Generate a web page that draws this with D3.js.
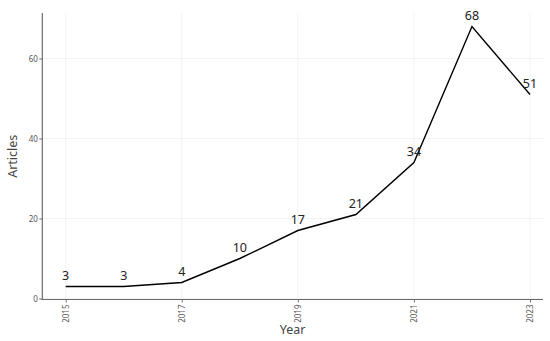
<!DOCTYPE html>
<html><head><meta charset="utf-8">
<script src="https://cdn.jsdelivr.net/npm/d3@7"></script>
<style>body{margin:0;background:#fff}svg{display:block}</style>
</head><body>
<script>
const years = [2015,2016,2017,2018,2019,2020,2021,2022,2023];
const articles = [3,3,4,10,17,21,34,68,51];
const xTicks = [2015,2017,2019,2021,2023];
const yTicks = [0,20,40,60];

const W=550,H=341;
const svg=d3.select("body").append("svg").attr("width",W).attr("height",H);
const x=d3.scaleLinear().domain([2015,2023]).range([65.7,530]);
const y=d3.scaleLinear().domain([0,60]).range([298.5,58.5]);
const pLeft=42.3, pRight=543, pTop=13, pBottom=299.5;
const font="'Noto Sans', 'Open Sans', sans-serif";

// grid
svg.append("g").selectAll("line").data(yTicks).join("line")
  .attr("x1",pLeft).attr("x2",pRight).attr("y1",d=>y(d)).attr("y2",d=>y(d))
  .attr("stroke","#f0f0f0").attr("stroke-width",0.8);
svg.append("g").selectAll("line").data(xTicks).join("line")
  .attr("x1",d=>x(d)).attr("x2",d=>x(d)).attr("y1",pTop).attr("y2",pBottom)
  .attr("stroke","#f0f0f0").attr("stroke-width",0.8);

// axes
const xAxis=d3.axisBottom(x).tickValues(xTicks).tickFormat(d3.format("d")).tickSize(3).tickSizeOuter(0);
const gx=svg.append("g").attr("transform",`translate(0,${pBottom})`).call(xAxis);
gx.select(".domain").remove();
gx.append("line").attr("x1",pLeft).attr("x2",pRight).attr("stroke","#6b6b6b").attr("stroke-width",1.2);
gx.selectAll(".tick line").attr("stroke","#6b6b6b");
gx.selectAll(".tick text").attr("transform","rotate(-90)").attr("x",-5).attr("y",0).attr("dy","0.35em")
  .attr("text-anchor","end").attr("fill","#555").style("font-family",font).style("font-size","8px");

const yAxis=d3.axisLeft(y).tickValues(yTicks).tickSize(3).tickSizeOuter(0);
const gy=svg.append("g").attr("transform",`translate(${pLeft},0)`).call(yAxis);
gy.select(".domain").remove();
gy.append("line").attr("y1",pTop).attr("y2",pBottom+0.6).attr("stroke","#6b6b6b").attr("stroke-width",1.2);
gy.selectAll(".tick line").attr("stroke","#6b6b6b");
gy.selectAll(".tick text").attr("x",-4.5).attr("fill","#555").style("font-family",font).style("font-size","8px");

// line
const line=d3.line().x((d,i)=>x(years[i])).y(d=>y(d));
svg.append("path").datum(articles).attr("d",line).attr("fill","none")
  .attr("stroke","#000").attr("stroke-width",1.4);

// labels
svg.append("g").selectAll("text").data(articles).join("text")
  .attr("x",(d,i)=>x(years[i])).attr("y",d=>y(d)-7)
  .attr("text-anchor","middle").attr("fill","#222")
  .style("font-family",font).style("font-size","12.5px").text(d=>d);

// titles
svg.append("text").attr("x",(pLeft+pRight)/2).attr("y",334).attr("text-anchor","middle")
  .attr("fill","#444").style("font-family",font).style("font-size","12.5px").text("Year");
svg.append("text").attr("transform",`translate(17,${(pTop+pBottom)/2}) rotate(-90)`).attr("text-anchor","middle")
  .attr("fill","#444").style("font-family",font).style("font-size","12.5px").text("Articles");
</script>
</body></html>
